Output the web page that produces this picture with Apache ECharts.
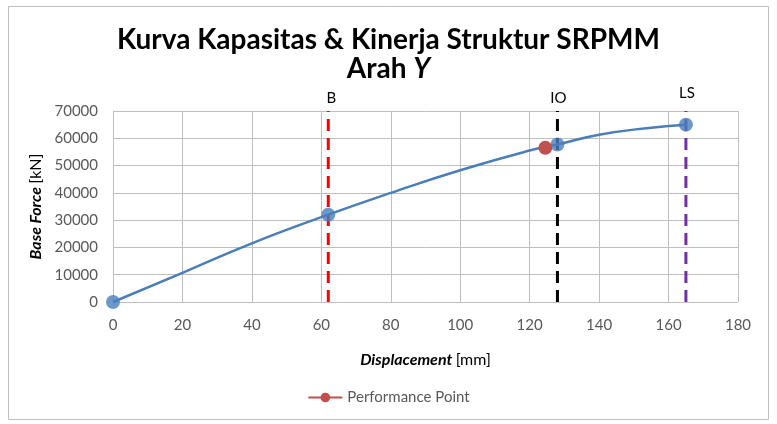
<!DOCTYPE html>
<html><head><meta charset="utf-8">
<script src="https://cdn.jsdelivr.net/npm/echarts@6/dist/echarts.min.js"></script>
<style>html,body{margin:0;padding:0;background:#fff}#c{width:777px;height:424px}</style>
</head><body><div id="c"></div>
<script>
// Capacity curve (displacement mm, base force kN)
const curveX = [0, 20, 40, 62, 80, 100, 120, 128, 140, 155, 165];
const curveY = [0, 10700, 21500, 32000, 40000, 48300, 55500, 57700, 61300, 63900, 65000];
// Marked points on the curve
const markX = [0, 62, 128, 165];
const markY = [0, 32000, 57700, 65000];
// Performance point
const perfX = [124.5];
const perfY = [56500];
// Limit lines
const limitNames = ['B', 'IO', 'LS'];
const limitX = [62, 128, 165];
const limitColors = ['#ff0000', '#000000', '#7030a0'];
const xTicks = [0, 20, 40, 60, 80, 100, 120, 140, 160, 180];
const yTicks = [0, 10000, 20000, 30000, 40000, 50000, 60000, 70000];

const font = 'Lato, "Open Sans", sans-serif';
const chart = echarts.init(document.getElementById('c'));
const series = [];
series.push({
  type: 'line', name: 'curve', smooth: true, showSymbol: false, z: 3,
  data: curveX.map((x, i) => [x, curveY[i]]),
  lineStyle: { color: '#4a7ebb', width: 2.5 }
});
limitNames.forEach((n, i) => {
  series.push({
    type: 'line', name: n, symbol: 'circle', symbolSize: 0, showSymbol: true, z: 2,
    data: [
      { value: [limitX[i], yTicks[0]] },
      { value: [limitX[i], yTicks[yTicks.length - 1]],
        label: { show: true, position: 'top', formatter: n, color: '#000', fontSize: 15,
          fontFamily: font, distance: i === 2 ? 10 : 5, offset: [i === 0 ? 3 : 1, 0] } }
    ],
    itemStyle: { color: limitColors[i] },
    lineStyle: { color: limitColors[i], width: 3, type: [12, 7] }
  });
});
series.push({
  type: 'scatter', name: 'marks', z: 4, symbolSize: 14,
  data: markX.map((x, i) => [x, markY[i]]),
  itemStyle: { color: '#4a7ebb' }
});
series.push({
  type: 'line', name: 'Performance Point', z: 5, symbol: 'circle', symbolSize: 14,
  data: perfX.map((x, i) => [x, perfY[i]]),
  itemStyle: { color: '#c0504d' }, lineStyle: { color: '#c0504d', width: 2.5 }
});

chart.setOption({
  animation: false,
  backgroundColor: '#fff',
  graphic: [{ type: 'rect', shape: { x: 8.5, y: 6.5, width: 760, height: 413 },
    style: { fill: 'none', stroke: '#bfbfbf', lineWidth: 1 } }],
  title: {
    text: 'Kurva Kapasitas & Kinerja Struktur SRPMM\n{n|Arah }{i|Y}',
    left: 'center', top: 20,
    textStyle: { fontFamily: font, fontWeight: 'bold', fontSize: 28, color: '#000', lineHeight: 29,
      rich: { n: { fontFamily: font, fontWeight: 'bold', fontSize: 28, color: '#000', lineHeight: 29 },
              i: { fontFamily: font, fontWeight: 'bold', fontStyle: 'italic', fontSize: 28, color: '#000', lineHeight: 29 } } }
  },
  legend: {
    data: ['Performance Point'], bottom: 14, left: 'center',
    itemWidth: 34, itemHeight: 12, itemGap: 4,
    textStyle: { fontFamily: font, fontSize: 15, color: '#595959' }
  },
  grid: { left: 113, right: 39, top: 111, bottom: 122 },
  xAxis: {
    type: 'value', min: xTicks[0], max: xTicks[xTicks.length - 1], interval: 20,
    name: '{b|Displacement} {n|[mm]}', nameLocation: 'middle', nameGap: 50,
    nameTextStyle: { rich: {
      b: { fontFamily: font, fontWeight: 'bold', fontStyle: 'italic', fontSize: 16, color: '#000' },
      n: { fontFamily: font, fontSize: 16, color: '#000' } } },
    axisLine: { show: false }, axisTick: { show: false },
    axisLabel: { fontFamily: font, fontSize: 15, color: '#595959', margin: 16 },
    splitLine: { show: true, lineStyle: { color: '#bfbfbf', width: 1 } }
  },
  yAxis: {
    type: 'value', min: yTicks[0], max: yTicks[yTicks.length - 1], interval: 10000,
    name: '{b|Base Force} {n|[kN]}', nameLocation: 'middle', nameGap: 68,
    nameTextStyle: { rich: {
      b: { fontFamily: font, fontWeight: 'bold', fontStyle: 'italic', fontSize: 16, color: '#000' },
      n: { fontFamily: font, fontSize: 16, color: '#000' } } },
    axisLine: { show: true, lineStyle: { color: '#bfbfbf' } }, axisTick: { show: false },
    axisLabel: { fontFamily: font, fontSize: 15, color: '#595959', margin: 15,
      formatter: v => String(v) },
    splitLine: { show: true, lineStyle: { color: '#bfbfbf', width: 1 } }
  },
  series: series
});
</script></body></html>
